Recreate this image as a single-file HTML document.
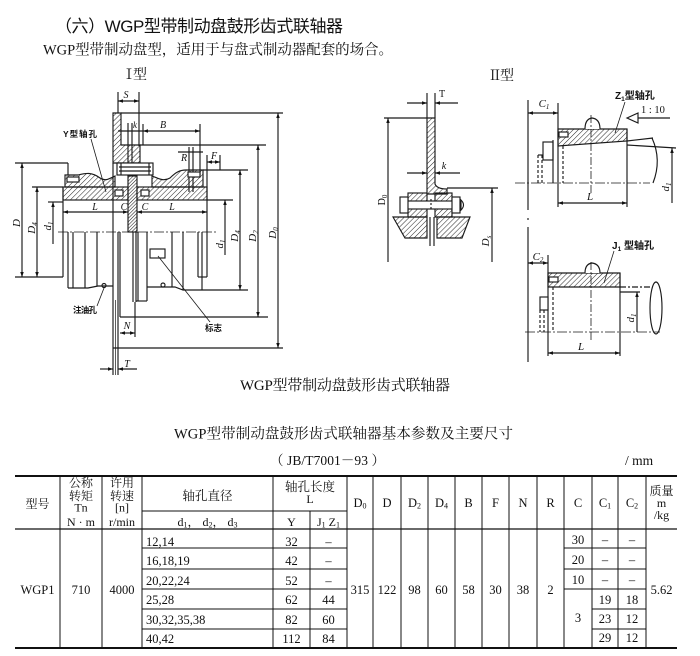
<!DOCTYPE html>
<html><head><meta charset="utf-8">
<style>
html,body{margin:0;padding:0;background:#fff;}
svg{display:block;}
.s{font-family:"Liberation Serif","Noto Serif CJK SC",serif;fill:#111;}
.ss{font-family:"Liberation Sans","Noto Sans CJK SC",sans-serif;fill:#111;}
.i{font-family:"Liberation Serif",serif;font-style:italic;fill:#111;}
</style></head>
<body>
<svg width="700" height="656" viewBox="0 0 700 656" xmlns="http://www.w3.org/2000/svg">
<defs>
<pattern id="h" width="3.6" height="3.6" patternUnits="userSpaceOnUse" patternTransform="rotate(45)">
<line x1="0" y1="0" x2="0" y2="3.6" stroke="#222" stroke-width="1"/></pattern>
<pattern id="hd" width="2.4" height="2.4" patternUnits="userSpaceOnUse" patternTransform="rotate(45)">
<line x1="0" y1="0" x2="0" y2="2.4" stroke="#222" stroke-width="1.1"/></pattern>
<marker id="ar" viewBox="0 0 10 10" refX="10" refY="5" markerWidth="6" markerHeight="5" orient="auto-start-reverse" markerUnits="userSpaceOnUse">
<path d="M0,1.5 L10,5 L0,8.5 z" fill="#111"/></marker>
</defs>

<!-- Headings -->
<text class="ss" x="55" y="32" font-size="17" textLength="288">（六）WGP型带制动盘鼓形齿式联轴器</text>
<text class="s" x="43" y="54.5" font-size="14.5" textLength="350">WGP型带制动盘型，适用于与盘式制动器配套的场合。</text>
<text class="s" x="122" y="79" font-size="14" textLength="25">Ⅰ型</text>
<text class="s" x="488" y="80" font-size="14" textLength="26">Ⅱ型</text>

<!-- ================= LEFT DRAWING (I型) ================= -->
<g stroke="#1a1a1a" stroke-width="1.15" fill="none">
<!-- S -->
<line x1="118" y1="92" x2="118" y2="113"/>
<line x1="139" y1="92" x2="139" y2="146"/>
<line x1="118" y1="101" x2="139" y2="101" marker-start="url(#ar)" marker-end="url(#ar)"/>
<!-- disc top L-shape -->
<path d="M113,113 H121 V145 H140 V163 H113 Z" fill="url(#h)"/>
<line x1="121" y1="113" x2="283" y2="113"/>
<!-- k and B -->
<line x1="128" y1="123" x2="128" y2="176"/>
<line x1="132" y1="123" x2="132" y2="176"/>
<line x1="143" y1="124" x2="143" y2="145"/>
<line x1="200" y1="124" x2="200" y2="176"/>
<line x1="118" y1="131" x2="143" y2="131"/>
<line x1="143" y1="131" x2="200" y2="131" marker-start="url(#ar)" marker-end="url(#ar)"/>
<!-- D2 top ext -->
<line x1="140" y1="145" x2="266" y2="145"/>
<!-- bolt box -->
<rect x="117" y="163" width="36" height="12" fill="#fff"/>
<line x1="119" y1="167" x2="151" y2="167"/>
<line x1="119" y1="171" x2="151" y2="171"/>
<line x1="121" y1="163" x2="121" y2="175"/>
<line x1="149" y1="163" x2="149" y2="175"/>
<!-- R -->
<line x1="189" y1="147" x2="189" y2="192"/>
<line x1="193" y1="147" x2="193" y2="192"/>
<line x1="178" y1="152" x2="203" y2="152"/>
<!-- F -->
<line x1="207" y1="155" x2="207" y2="187"/>
<line x1="220" y1="155" x2="220" y2="170"/>
<line x1="207" y1="162" x2="220" y2="162" marker-start="url(#ar)" marker-end="url(#ar)"/>
<line x1="203" y1="170" x2="248" y2="170"/>
<line x1="207" y1="200" x2="233" y2="200"/>
<!-- sleeves -->
<path d="M65,187 V175 H78 C86,173 92,172 100,178 C106,182 110,178 115,176 V187 Z" fill="url(#h)"/>
<rect x="67" y="177" width="12" height="5" fill="#fff"/>
<line x1="68" y1="163" x2="68" y2="175"/>
<path d="M152,176 C158,178 163,182 170,178 C176,172 180,170 186,170 H203 V187 H152 Z" fill="url(#h)"/>
<rect x="188" y="172" width="12" height="5" fill="#fff"/>
<!-- hub band -->
<rect x="63" y="187" width="65" height="13" fill="url(#h)"/>
<rect x="137" y="187" width="70" height="13" fill="url(#h)"/>
<rect x="115" y="190" width="8" height="6" fill="#fff"/>
<rect x="141" y="190" width="8" height="6" fill="#fff"/>
<!-- disc strip -->
<rect x="128" y="176" width="9" height="56" fill="url(#hd)"/>
<line x1="133" y1="232" x2="133" y2="302"/>
<line x1="136" y1="232" x2="136" y2="302"/>
<!-- left dims -->
<line x1="15" y1="163" x2="68" y2="163"/>
<line x1="22" y1="163" x2="22" y2="277" marker-start="url(#ar)" marker-end="url(#ar)"/>
<line x1="32" y1="187" x2="63" y2="187"/>
<line x1="37" y1="187" x2="37" y2="277" marker-start="url(#ar)" marker-end="url(#ar)"/>
<line x1="15" y1="277" x2="63" y2="277"/>
<line x1="48" y1="202" x2="63" y2="202"/>
<line x1="53" y1="202" x2="53" y2="244" marker-start="url(#ar)"/>
<!-- L C dims -->
<line x1="63" y1="212" x2="128" y2="212" marker-start="url(#ar)" marker-end="url(#ar)"/>
<line x1="137" y1="212" x2="207" y2="212" marker-start="url(#ar)" marker-end="url(#ar)"/>
<!-- hub verticals -->
<line x1="63" y1="187" x2="63" y2="277"/>
<line x1="207" y1="187" x2="207" y2="277"/>
<!-- centerline -->
<line x1="58" y1="232" x2="216" y2="232" stroke-dasharray="10 2 2 2" stroke-width="0.8"/>
<!-- lower exterior left -->
<line x1="68" y1="232" x2="68" y2="288"/>
<line x1="73" y1="232" x2="73" y2="288"/>
<line x1="85" y1="232" x2="85" y2="288"/>
<line x1="97" y1="232" x2="97" y2="286"/>
<path d="M68,288 H88 L98,286 H113"/>
<circle cx="104" cy="285.5" r="2"/>
<!-- disc T lines -->
<line x1="113" y1="163" x2="113" y2="375"/>
<line x1="115.5" y1="300" x2="115.5" y2="375" stroke-width="0.7"/>
<line x1="118" y1="232" x2="118" y2="375"/>
<line x1="120" y1="232" x2="120" y2="317"/>
<line x1="135" y1="302" x2="135" y2="337"/>
<!-- right flange -->
<line x1="138" y1="232" x2="138" y2="301"/>
<line x1="147" y1="232" x2="147" y2="301"/>
<line x1="136" y1="301" x2="147" y2="301"/>
<!-- right sleeve -->
<line x1="172" y1="232" x2="172" y2="287"/>
<line x1="183" y1="232" x2="183" y2="290"/>
<line x1="198" y1="232" x2="198" y2="277"/>
<line x1="202" y1="232" x2="202" y2="290"/>
<line x1="198" y1="277" x2="207" y2="277"/>
<path d="M147,287 H175 L183,290 H248"/>
<circle cx="163" cy="285" r="2"/>
<rect x="150" y="249" width="15" height="9" fill="#fff"/>
<!-- right dims -->
<line x1="120" y1="317" x2="268" y2="317"/>
<line x1="113" y1="348" x2="283" y2="348"/>
<line x1="278" y1="113" x2="278" y2="348" marker-start="url(#ar)" marker-end="url(#ar)"/>
<line x1="258" y1="145" x2="258" y2="317" marker-start="url(#ar)" marker-end="url(#ar)"/>
<line x1="240" y1="170" x2="240" y2="290" marker-start="url(#ar)" marker-end="url(#ar)"/>
<line x1="225" y1="200" x2="225" y2="255" marker-start="url(#ar)"/>
<!-- N, T -->
<line x1="120" y1="333" x2="135" y2="333" marker-start="url(#ar)" marker-end="url(#ar)"/>
<line x1="100" y1="369" x2="113" y2="369" marker-end="url(#ar)"/>
<line x1="137" y1="369" x2="118" y2="369" marker-end="url(#ar)"/>
<!-- leaders -->
<line x1="91" y1="139" x2="106" y2="192" stroke-width="0.8"/>
<line x1="97" y1="306" x2="104" y2="288" stroke-width="0.8"/>
<line x1="158" y1="256" x2="210" y2="322" stroke-width="0.8"/>
</g>
<!-- left labels -->
<text class="i" x="126" y="98" font-size="10" text-anchor="middle" font-style="normal">S</text>
<text class="i" x="135" y="128" font-size="9" text-anchor="middle">k</text>
<text class="i" x="163" y="128" font-size="10" text-anchor="middle">B</text>
<text class="i" x="184" y="161" font-size="10" text-anchor="middle">R</text>
<text class="i" x="214" y="159" font-size="10" text-anchor="middle">F</text>
<text class="ss" x="63" y="137" font-size="8.5" font-weight="bold" textLength="34">Y型轴孔</text>
<text class="i" x="95" y="210" font-size="10" text-anchor="middle">L</text>
<text class="i" x="124" y="210" font-size="10" text-anchor="middle">C</text>
<text class="i" x="145" y="210" font-size="10" text-anchor="middle">C</text>
<text class="i" x="172" y="210" font-size="10" text-anchor="middle">L</text>
<text class="ss" x="73" y="313" font-size="8.5" font-weight="bold" textLength="24">注油孔</text>
<text class="ss" x="205" y="331" font-size="8.5" font-weight="bold" textLength="17">标志</text>
<text class="i" x="127" y="329" font-size="10" text-anchor="middle">N</text>
<text class="i" x="127" y="367" font-size="10" text-anchor="middle">T</text>
<text class="i" font-size="11" text-anchor="middle" transform="translate(276,233) rotate(-90)">D<tspan font-size="7" dy="2">0</tspan></text>
<text class="i" font-size="11" text-anchor="middle" transform="translate(256,236) rotate(-90)">D<tspan font-size="7" dy="2">2</tspan></text>
<text class="i" font-size="11" text-anchor="middle" transform="translate(238,236) rotate(-90)">D<tspan font-size="7" dy="2">4</tspan></text>
<text class="i" font-size="11" text-anchor="middle" transform="translate(223,244) rotate(-90)">d<tspan font-size="7" dy="2">1</tspan></text>
<text class="i" font-size="11" text-anchor="middle" transform="translate(20,223) rotate(-90)">D</text>
<text class="i" font-size="11" text-anchor="middle" transform="translate(35,228) rotate(-90)">D<tspan font-size="7" dy="2">4</tspan></text>
<text class="i" font-size="11" text-anchor="middle" transform="translate(51,226) rotate(-90)">d<tspan font-size="7" dy="2">1</tspan></text>

<!-- ================= MIDDLE DRAWING (II型) ================= -->
<g stroke="#1a1a1a" stroke-width="1.15" fill="none">
<line x1="427" y1="93" x2="427" y2="118"/>
<line x1="435" y1="93" x2="435" y2="118"/>
<line x1="407" y1="103" x2="427" y2="103" marker-end="url(#ar)"/>
<line x1="458" y1="103" x2="435" y2="103" marker-end="url(#ar)"/>
<path d="M427,118 H435 V184 Q437,189 447,189 V194 H427 Z" fill="url(#h)"/>
<line x1="384" y1="118" x2="427" y2="118"/>
<line x1="388" y1="262" x2="388" y2="118" marker-end="url(#ar)"/>
<line x1="407" y1="173" x2="427" y2="173" marker-end="url(#ar)"/>
<line x1="460" y1="173" x2="435" y2="173" marker-end="url(#ar)"/>
<line x1="447" y1="188" x2="498" y2="188"/>
<line x1="492" y1="262" x2="492" y2="188" marker-end="url(#ar)"/>
<rect x="408" y="193" width="19" height="24" fill="url(#h)"/>
<rect x="435" y="193" width="17" height="24" fill="url(#h)"/>
<rect x="403" y="201" width="58" height="8" fill="#fff"/>
<rect x="400" y="197" width="8" height="16" fill="#fff"/>
<rect x="452" y="197" width="8" height="16" fill="#fff"/>
<path d="M460,199 Q467,205 460,211"/>
<line x1="431" y1="199" x2="431" y2="211" stroke-dasharray="2 2"/>
<path d="M393,217 H427 V238 H405 Z" fill="url(#h)"/>
<path d="M437,217 H470 L462,238 H437 Z" fill="url(#h)"/>
<line x1="430" y1="217" x2="430" y2="246"/>
<line x1="434" y1="217" x2="434" y2="246"/>
</g>
<text class="s" x="442" y="97" font-size="10" text-anchor="middle">T</text>
<text class="i" x="444" y="169" font-size="10" text-anchor="middle">k</text>
<text class="s" font-size="10" text-anchor="middle" transform="translate(385,200) rotate(-90)">D<tspan font-size="7" dy="2">0</tspan></text>
<text class="i" font-size="11" text-anchor="middle" transform="translate(489,241) rotate(-90)">D<tspan font-size="7" dy="2">s</tspan></text>

<!-- ================= RIGHT DRAWINGS ================= -->
<g stroke="#1a1a1a" stroke-width="1.15" fill="none">
<line x1="528" y1="100" x2="528" y2="210"/>
<line x1="528" y1="218" x2="528" y2="220"/>
<line x1="528" y1="227" x2="528" y2="362"/>
<!-- upper Z1 -->
<line x1="528" y1="113" x2="558" y2="113" marker-start="url(#ar)" marker-end="url(#ar)"/>
<line x1="558" y1="103" x2="558" y2="207"/>
<path d="M558,129 H627 V141 L558,146 Z" fill="url(#h)"/>
<rect x="559" y="132" width="9" height="5" fill="#fff"/>
<path d="M585,129 Q585,119 592,118 Q600,119 600,129" fill="#fff"/>
<line x1="627" y1="129" x2="627" y2="207"/>
<line x1="627" y1="141" x2="653" y2="138"/>
<line x1="627" y1="145" x2="676" y2="148"/>
<path d="M652,138 Q662,160 653,183"/>
<line x1="672" y1="203" x2="672" y2="148" marker-end="url(#ar)"/>
<line x1="515" y1="183" x2="650" y2="183" stroke-dasharray="10 2 2 2" stroke-width="0.8"/>
<line x1="591" y1="115" x2="591" y2="193" stroke-dasharray="8 2 2 2" stroke-width="0.8"/>
<line x1="558" y1="203" x2="627" y2="203" marker-start="url(#ar)" marker-end="url(#ar)"/>
<rect x="543" y="142" width="10" height="18" fill="#fff"/>
<line x1="553" y1="140" x2="553" y2="183"/>
<line x1="538" y1="155" x2="538" y2="183" stroke-dasharray="3 2"/>
<line x1="542" y1="155" x2="542" y2="183" stroke-dasharray="3 2"/>
<line x1="538" y1="155" x2="543" y2="155"/>
<line x1="563" y1="146" x2="563" y2="183" stroke-dasharray="3 2"/>
<line x1="625" y1="102" x2="615" y2="133" stroke-width="0.8"/>
<path d="M627,118 L638,113 L638,123 Z"/>
<line x1="638" y1="118" x2="670" y2="118"/>
<!-- lower J1 -->
<line x1="528" y1="263" x2="548" y2="263" marker-start="url(#ar)" marker-end="url(#ar)"/>
<line x1="548" y1="255" x2="548" y2="356"/>
<path d="M548,273 H620 V287 H548 Z" fill="url(#h)"/>
<rect x="549" y="277" width="9" height="5" fill="#fff"/>
<path d="M585,273 Q585,264 592,263 Q600,264 600,273" fill="#fff"/>
<line x1="620" y1="273" x2="620" y2="356"/>
<line x1="620" y1="287" x2="652" y2="287" stroke-dasharray="6 2 2 2"/>
<line x1="620" y1="292" x2="640" y2="292"/>
<ellipse cx="656" cy="308" rx="6" ry="26"/>
<line x1="637" y1="332" x2="637" y2="292" marker-end="url(#ar)"/>
<line x1="525" y1="332" x2="660" y2="332" stroke-dasharray="10 2 2 2" stroke-width="0.8"/>
<line x1="591" y1="262" x2="591" y2="340" stroke-dasharray="8 2 2 2" stroke-width="0.8"/>
<line x1="548" y1="353" x2="620" y2="353" marker-start="url(#ar)" marker-end="url(#ar)"/>
<rect x="540" y="297" width="8" height="13" fill="#fff"/>
<line x1="540" y1="310" x2="540" y2="332" stroke-dasharray="3 2"/>
<line x1="544" y1="310" x2="544" y2="332" stroke-dasharray="3 2"/>
<line x1="553" y1="287" x2="553" y2="332" stroke-dasharray="3 2"/>
<line x1="614" y1="251" x2="604" y2="283" stroke-width="0.8"/>
</g>
<text class="i" x="544" y="107" font-size="11" text-anchor="middle">C<tspan font-size="7" dy="2">1</tspan></text>
<text class="i" x="590" y="200" font-size="11" text-anchor="middle">L</text>
<text class="ss" x="615" y="99" font-size="10" font-weight="bold">Z<tspan font-size="6.5" dy="2">1</tspan><tspan dy="-2">型轴孔</tspan></text>
<text class="s" x="641" y="113" font-size="10.5">1 : 10</text>
<text class="i" font-size="11" text-anchor="middle" transform="translate(669,187) rotate(-90)">d<tspan font-size="7" dy="2">1</tspan></text>
<text class="i" x="538" y="260" font-size="11" text-anchor="middle">C<tspan font-size="7" dy="2">2</tspan></text>
<text class="ss" x="612" y="249" font-size="10" font-weight="bold">J<tspan font-size="6.5" dy="2">1</tspan><tspan dy="-2"> 型轴孔</tspan></text>
<text class="i" font-size="11" text-anchor="middle" transform="translate(634,318) rotate(-90)">d<tspan font-size="7" dy="2">1</tspan></text>
<text class="i" x="581" y="350" font-size="11" text-anchor="middle">L</text>

<!-- caption -->
<text class="s" x="240" y="390" font-size="15" textLength="210">WGP型带制动盘鼓形齿式联轴器</text>

<!-- ================= TABLE ================= -->
<text class="s" x="174" y="438.5" font-size="14.5" textLength="339">WGP型带制动盘鼓形齿式联轴器基本参数及主要尺寸</text>
<text class="s" x="270" y="465" font-size="13.5" textLength="115">（ JB/T7001－93 ）</text>
<text class="s" x="625" y="465" font-size="13.5">/ mm</text>

<g stroke="#111" fill="none">
<line x1="15" y1="476" x2="677" y2="476" stroke-width="2"/>
<line x1="15" y1="648" x2="677" y2="648" stroke-width="2"/>
<line x1="15" y1="529" x2="677" y2="529" stroke-width="1.3"/>
<line x1="142" y1="511" x2="347" y2="511" stroke-width="1"/>
<g stroke-width="1">
<line x1="60" y1="476" x2="60" y2="648"/>
<line x1="102" y1="476" x2="102" y2="648"/>
<line x1="142" y1="476" x2="142" y2="648"/>
<line x1="273" y1="476" x2="273" y2="648"/>
<line x1="310" y1="511" x2="310" y2="648"/>
<line x1="347" y1="476" x2="347" y2="648"/>
<line x1="373" y1="476" x2="373" y2="648"/>
<line x1="401" y1="476" x2="401" y2="648"/>
<line x1="428" y1="476" x2="428" y2="648"/>
<line x1="455" y1="476" x2="455" y2="648"/>
<line x1="482" y1="476" x2="482" y2="648"/>
<line x1="509" y1="476" x2="509" y2="648"/>
<line x1="537" y1="476" x2="537" y2="648"/>
<line x1="564" y1="476" x2="564" y2="648"/>
<line x1="592" y1="476" x2="592" y2="648"/>
<line x1="618" y1="476" x2="618" y2="648"/>
<line x1="646" y1="476" x2="646" y2="648"/>
<line x1="142" y1="548" x2="347" y2="548"/>
<line x1="142" y1="569" x2="347" y2="569"/>
<line x1="142" y1="589" x2="347" y2="589"/>
<line x1="142" y1="609" x2="347" y2="609"/>
<line x1="142" y1="629" x2="347" y2="629"/>
<line x1="564" y1="548" x2="646" y2="548"/>
<line x1="564" y1="569" x2="646" y2="569"/>
<line x1="564" y1="589" x2="646" y2="589"/>
<line x1="592" y1="609" x2="646" y2="609"/>
<line x1="592" y1="629" x2="646" y2="629"/>
</g>
</g>

<g class="s" font-size="12" text-anchor="middle">
<text x="37.5" y="508">型号</text>
<text x="81" y="487">公称</text>
<text x="81" y="500">转矩</text>
<text x="81" y="511.5">Tn</text>
<text x="81" y="526">N · m</text>
<text x="122" y="487">许用</text>
<text x="122" y="500">转速</text>
<text x="122" y="511.5">[n]</text>
<text x="122" y="526">r/min</text>
<text x="207.5" y="500" font-size="12.5">轴孔直径</text>
<text x="207.5" y="526">d<tspan font-size="8" dy="1.5">1</tspan><tspan dy="-1.5">， d</tspan><tspan font-size="8" dy="1.5">2</tspan><tspan dy="-1.5">， d</tspan><tspan font-size="8" dy="1.5">3</tspan></text>
<text x="310" y="491" font-size="12.5">轴孔长度</text>
<text x="310" y="503">L</text>
<text x="291.5" y="526">Y</text>
<text x="328.5" y="526">J<tspan font-size="8" dy="1.5">1</tspan><tspan dy="-1.5"> Z</tspan><tspan font-size="8" dy="1.5">1</tspan></text>
<text x="360" y="507" font-size="12.5">D<tspan font-size="8" dy="1.5">0</tspan></text>
<text x="387" y="507" font-size="12.5">D</text>
<text x="414.5" y="507" font-size="12.5">D<tspan font-size="8" dy="1.5">2</tspan></text>
<text x="441.5" y="507" font-size="12.5">D<tspan font-size="8" dy="1.5">4</tspan></text>
<text x="468.5" y="507" font-size="12.5">B</text>
<text x="495.5" y="507" font-size="12.5">F</text>
<text x="523" y="507" font-size="12.5">N</text>
<text x="550.5" y="507" font-size="12.5">R</text>
<text x="578" y="507" font-size="12.5">C</text>
<text x="605" y="507" font-size="12.5">C<tspan font-size="8" dy="1.5">1</tspan></text>
<text x="632" y="507" font-size="12.5">C<tspan font-size="8" dy="1.5">2</tspan></text>
<text x="661.5" y="495">质量</text>
<text x="661.5" y="507">m</text>
<text x="661.5" y="519">/kg</text>
</g>

<g class="s" font-size="12.5" text-anchor="middle">
<text x="37.5" y="594">WGP1</text>
<text x="81" y="594">710</text>
<text x="122" y="594">4000</text>
<text x="291.5" y="546">32</text>
<text x="291.5" y="565">42</text>
<text x="291.5" y="585">52</text>
<text x="291.5" y="604">62</text>
<text x="291.5" y="624">82</text>
<text x="291.5" y="643">112</text>
<text x="328.5" y="546">–</text>
<text x="328.5" y="565">–</text>
<text x="328.5" y="585">–</text>
<text x="328.5" y="604">44</text>
<text x="328.5" y="624">60</text>
<text x="328.5" y="643">84</text>
<text x="360" y="594">315</text>
<text x="387" y="594">122</text>
<text x="414.5" y="594">98</text>
<text x="441.5" y="594">60</text>
<text x="468.5" y="594">58</text>
<text x="495.5" y="594">30</text>
<text x="523" y="594">38</text>
<text x="550.5" y="594">2</text>
<text x="578" y="544">30</text>
<text x="578" y="564">20</text>
<text x="578" y="584">10</text>
<text x="578" y="622">3</text>
<text x="605" y="544">–</text>
<text x="605" y="564">–</text>
<text x="605" y="584">–</text>
<text x="605" y="604">19</text>
<text x="605" y="623">23</text>
<text x="605" y="642">29</text>
<text x="632" y="544">–</text>
<text x="632" y="564">–</text>
<text x="632" y="584">–</text>
<text x="632" y="604">18</text>
<text x="632" y="623">12</text>
<text x="632" y="642">12</text>
<text x="661.5" y="594">5.62</text>
</g>
<g class="s" font-size="12.5">
<text x="146" y="546">12,14</text>
<text x="146" y="565">16,18,19</text>
<text x="146" y="585">20,22,24</text>
<text x="146" y="604">25,28</text>
<text x="146" y="624">30,32,35,38</text>
<text x="146" y="643">40,42</text>
</g>
</svg>
</body></html>
